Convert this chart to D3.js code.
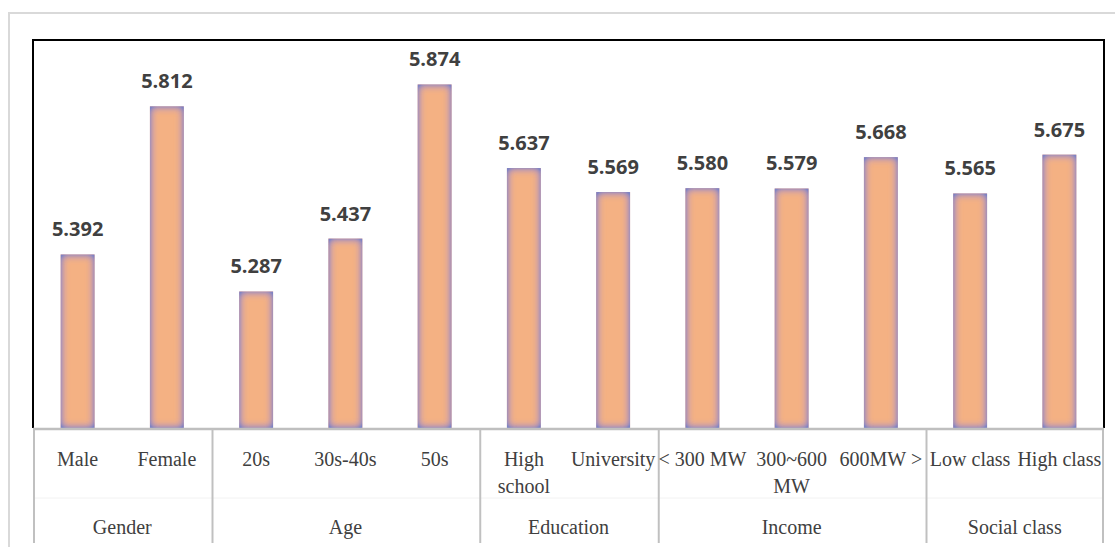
<!DOCTYPE html>
<html>
<head>
<meta charset="utf-8">
<script src="https://cdn.jsdelivr.net/npm/d3@7"></script>
<style>
  html, body { margin: 0; padding: 0; background: #fff; }
  svg { display: block; }
</style>
</head>
<body>
<svg id="chart" width="1115" height="547"></svg>
<script>
// Mean scores by respondent subgroup
const categories = ["Male", "Female", "20s", "30s-40s", "50s", "High\nschool", "University",
                    "< 300 MW", "300~600\nMW", "600MW >", "Low class", "High class"];
const values = [5.392, 5.812, 5.287, 5.437, 5.874, 5.637, 5.569, 5.580, 5.579, 5.668, 5.565, 5.675];
const groups = ["Gender", "Age", "Education", "Income", "Social class"];
const groupSizes = [2, 3, 2, 3, 2];
const yDomain = [4.9, 6.0];

const svg = d3.select("#chart");
const plot = { left: 33, right: 1104, top: 40, bottom: 428 };

// Filter: soft bluish inner glow around each bar
const defs = svg.append("defs");
const f = defs.append("filter").attr("id", "innerGlow")
  .attr("x", "-30%").attr("y", "-5%").attr("width", "160%").attr("height", "110%");
f.append("feFlood").attr("flood-color", "#7c83c4").attr("result", "flood");
f.append("feComposite").attr("in", "flood").attr("in2", "SourceAlpha").attr("operator", "out").attr("result", "outside");
f.append("feGaussianBlur").attr("in", "outside").attr("stdDeviation", 4.5).attr("result", "blur");
f.append("feComponentTransfer").attr("in", "blur").attr("result", "boosted")
  .append("feFuncA").attr("type", "linear").attr("slope", 1.6).attr("intercept", 0);
f.append("feComposite").attr("in", "boosted").attr("in2", "SourceAlpha").attr("operator", "in").attr("result", "glow");
const merge = f.append("feMerge");
merge.append("feMergeNode").attr("in", "SourceGraphic");
merge.append("feMergeNode").attr("in", "glow");

// Outer frame
svg.append("rect")
  .attr("x", 9).attr("y", 13).attr("width", 1115).attr("height", 545)
  .attr("fill", "none").attr("stroke", "#d9d9d9").attr("stroke-width", 2);

const x = d3.scaleBand()
  .domain(d3.range(categories.length))
  .range([plot.left, plot.right])
  .paddingInner(0.62)
  .paddingOuter(0.31);

const y = d3.scaleLinear().domain(yDomain).range([plot.bottom, plot.top]);

// Bars
svg.append("g").selectAll("rect")
  .data(values)
  .join("rect")
  .attr("x", (d, i) => x(i))
  .attr("y", d => y(d))
  .attr("width", x.bandwidth())
  .attr("height", d => y(yDomain[0]) - y(d))
  .attr("fill", "#f4b183")
  .attr("filter", "url(#innerGlow)");

// Value labels
svg.append("g").selectAll("text")
  .data(values)
  .join("text")
  .attr("x", (d, i) => x(i) + x.bandwidth() / 2)
  .attr("y", d => y(d) - 18)
  .attr("text-anchor", "middle")
  .attr("font-family", "'Open Sans', sans-serif")
  .attr("font-weight", 700)
  .attr("font-size", 20)
  .attr("fill", "#404040")
  .text(d => d.toFixed(3));

// Plot border: black on left, top and right
svg.append("path")
  .attr("d", `M${plot.left},${plot.bottom} V${plot.top} H${plot.right} V${plot.bottom}`)
  .attr("fill", "none").attr("stroke", "#000").attr("stroke-width", 2);

// Category axis line
svg.append("line")
  .attr("x1", plot.left).attr("x2", plot.right)
  .attr("y1", plot.bottom + 1).attr("y2", plot.bottom + 1)
  .attr("stroke", "#bfbfbf").attr("stroke-width", 2.5);

// Faint row divider between category and group labels
svg.append("line")
  .attr("x1", plot.left).attr("x2", plot.right)
  .attr("y1", 498).attr("y2", 498)
  .attr("stroke", "#f2f2f2").attr("stroke-width", 1);

// Group separators and group labels
const step = x.step();
let start = 0;
const bounds = [0];
groupSizes.forEach(n => { start += n; bounds.push(start); });

svg.append("g").selectAll("line")
  .data(bounds)
  .join("line")
  .attr("x1", b => Math.min(plot.left + 1 + b * step, plot.right - 1))
  .attr("x2", b => Math.min(plot.left + 1 + b * step, plot.right - 1))
  .attr("y1", plot.bottom + 1).attr("y2", 543)
  .attr("stroke", "#c0c0c0").attr("stroke-width", 2);

svg.append("g").selectAll("text")
  .data(groups)
  .join("text")
  .attr("x", (g, i) => plot.left + (bounds[i] + bounds[i + 1]) / 2 * step)
  .attr("y", 534)
  .attr("text-anchor", "middle")
  .attr("font-family", "'Liberation Serif', serif")
  .attr("font-size", 20)
  .attr("fill", "#404040")
  .text(g => g);

// Category labels (may span two lines)
const catLabels = svg.append("g").selectAll("text")
  .data(categories)
  .join("text")
  .attr("x", (c, i) => x(i) + x.bandwidth() / 2)
  .attr("y", 466)
  .attr("text-anchor", "middle")
  .attr("font-family", "'Liberation Serif', serif")
  .attr("font-size", 20)
  .attr("fill", "#404040");

catLabels.each(function (c, i) {
  const t = d3.select(this);
  c.split("\n").forEach((line, k) => {
    t.append("tspan")
      .attr("x", x(i) + x.bandwidth() / 2)
      .attr("dy", k === 0 ? 0 : 27)
      .text(line);
  });
});
</script>
</body>
</html>
